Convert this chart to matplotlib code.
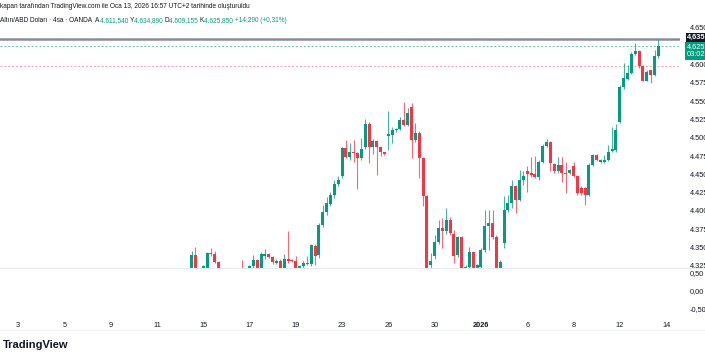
import numpy as np
import matplotlib
matplotlib.use("Agg")
import matplotlib.pyplot as plt

plt.rcParams['font.family'] = ['Liberation Sans', 'DejaVu Sans']

# 4h candles, XAU/USD (OANDA), first visible bar is bar #45 counted from Dec 3 00:00
first_bar = 45
opens = [4310, 4340, 4310, 4310, 4310, 4343, 4341, 4330, 4310, 4305, 4300, 4306, 4312, 4318, 4305,
         4310, 4325, 4333, 4310, 4339, 4341, 4337, 4329, 4332, 4310, 4335, 4333, 4331, 4310, 4325,
         4329, 4328, 4352, 4340, 4381, 4398, 4410, 4422, 4437, 4448, 4486, 4474, 4481, 4479, 4472,
         4487, 4519, 4488, 4495, 4488, 4480, 4502, 4504, 4510, 4512, 4524, 4518, 4542, 4497, 4507,
         4472, 4420, 4326, 4338, 4358, 4377, 4372, 4388, 4369, 4340, 4365, 4310, 4324, 4344, 4310,
         4324, 4347, 4380, 4384, 4365, 4310, 4356, 4401, 4411, 4434, 4415, 4442, 4454, 4452, 4451,
         4446, 4467, 4489, 4494, 4464, 4454, 4463, 4452, 4452, 4462, 4448, 4432, 4431, 4422, 4463,
         4477, 4467, 4467, 4470, 4482, 4483, 4522, 4569, 4581, 4589, 4615, 4618, 4598, 4578, 4592,
         4586, 4611.54]
highs = [4346, 4351, 4318, 4326, 4344, 4350, 4346, 4331, 4318, 4316, 4312, 4318, 4320, 4333, 4318,
         4326, 4340, 4335, 4344, 4348, 4343, 4338, 4334, 4334, 4341, 4373, 4335, 4338, 4326, 4332,
         4338, 4355, 4355, 4383, 4408, 4419, 4426, 4442, 4448, 4488, 4497, 4493, 4497, 4481, 4500,
         4526, 4521, 4498, 4497, 4489, 4481, 4536, 4515, 4514, 4528, 4549, 4541, 4548, 4520, 4509,
         4474, 4422, 4343, 4367, 4388, 4390, 4404, 4392, 4374, 4366, 4366, 4326, 4351, 4346, 4328,
         4349, 4401, 4401, 4401, 4367, 4333, 4420, 4422, 4442, 4436, 4456, 4454, 4461, 4474, 4475,
         4469, 4492, 4499, 4496, 4466, 4474, 4474, 4467, 4458, 4467, 4449, 4434, 4433, 4465, 4478,
         4478, 4471, 4477, 4490, 4515, 4519, 4572, 4602, 4600, 4617, 4630, 4620, 4600, 4592, 4593,
         4620, 4634.89]
lows = [4300, 4300, 4300, 4300, 4300, 4339, 4329, 4300, 4298, 4295, 4292, 4298, 4302, 4300, 4298,
        4305, 4322, 4300, 4305, 4335, 4336, 4328, 4327, 4300, 4305, 4329, 4330, 4300, 4305, 4322,
        4326, 4325, 4326, 4336, 4378, 4395, 4407, 4418, 4434, 4445, 4472, 4469, 4467, 4430, 4470,
        4485, 4466, 4478, 4449, 4475, 4476, 4483, 4493, 4508, 4510, 4516, 4516, 4472, 4494, 4445,
        4407, 4290, 4305, 4335, 4355, 4350, 4369, 4367, 4329, 4337, 4300, 4300, 4321, 4300, 4300,
        4320, 4344, 4347, 4362, 4300, 4300, 4350, 4399, 4404, 4397, 4413, 4436, 4426, 4447, 4445,
        4443, 4465, 4487, 4454, 4452, 4452, 4440, 4424, 4450, 4446, 4422, 4422, 4408, 4420, 4462,
        4468, 4466, 4466, 4468, 4481, 4481, 4520, 4567, 4579, 4587, 4613, 4596, 4577, 4577, 4575,
        4585, 4609.155]
closes = [4340, 4310, 4315, 4325, 4343, 4341, 4330, 4310, 4305, 4300, 4306, 4312, 4316, 4305, 4310,
          4325, 4333, 4310, 4341, 4341, 4337, 4330, 4332, 4310, 4335, 4332, 4331, 4310, 4325, 4329,
          4328, 4354, 4338, 4381, 4398, 4411, 4422, 4437, 4442, 4486, 4474, 4481, 4479, 4472, 4485,
          4519, 4487, 4495, 4488, 4480, 4478, 4505, 4510, 4512, 4524, 4518, 4534, 4497, 4507, 4472,
          4420, 4305, 4331, 4358, 4377, 4372, 4388, 4370, 4338, 4365, 4310, 4324, 4344, 4310, 4326,
          4347, 4380, 4384, 4365, 4310, 4330, 4401, 4411, 4434, 4415, 4442, 4448, 4450, 4449, 4446,
          4467, 4489, 4494, 4465, 4454, 4463, 4452, 4451, 4456, 4448, 4424, 4424, 4422, 4463, 4477,
          4470, 4470, 4470, 4481, 4485, 4510, 4569, 4582, 4589, 4615, 4618, 4598, 4578, 4590, 4586,
          4611.56, 4625.85]

tick_bars = [0, 12, 24, 36, 48, 60, 72, 84, 96, 108, 120, 132, 144, 156, 168]
tick_labels = ["3", "5", "9", "11", "15", "17", "19", "23", "26", "30", "2026", "6", "8", "12", "14"]
price_ticks = list(range(4325, 4651, 25))
osc_ticks = [0.5, 0.0, -0.5]
prev_line = 4598

GREEN = "#089981"
RED = "#f23645"
TXT = "#131722"

W, H = 705, 360
fig = plt.figure(figsize=(W / 100, H / 100), dpi=100)


def box(x0, y0, x1, y1):
    return [x0 / W, 1 - y1 / H, (x1 - x0) / W, (y1 - y0) / H]


def tr(v, nd):
    return f"{v:,.{nd}f}".replace(",", "_").replace(".", ",").replace("_", ".")


ax = fig.add_axes(box(0, 0, 680, 268))
low_ax = fig.add_axes(box(0, 268, 680, 316))

o = np.array(opens)
h = np.array(highs)
l = np.array(lows)
c = np.array(closes)
x = np.arange(first_bar, first_bar + len(o))
up = c >= o
cols = np.where(up, GREEN, RED)

ax.vlines(x, l, h, colors=cols, linewidth=0.8, alpha=0.75, zorder=2)
body = np.maximum(np.abs(c - o), 0.9)
ax.bar(x, body, bottom=np.minimum(o, c), width=0.78, color=cols, linewidth=0, zorder=3)

ax.set_xlim(-4.67, 171.6)
ax.set_ylim(4322.1, 4688.25)

# last high, last price, and the pink level
ax.axhline(h[-1], color="#8a8d96", linewidth=1.8, zorder=1)
ax.axhline(c[-1], color=GREEN, linewidth=0.7, linestyle=(0, (2, 2)), alpha=0.6, zorder=1)
ax.axhline(prev_line, color=RED, linewidth=0.7, linestyle=(0, (2, 2)), alpha=0.45, zorder=1)

ax.yaxis.tick_right()
ax.set_yticks(price_ticks)
ax.set_yticklabels([tr(v, 0) for v in price_ticks])
ax.tick_params(axis="y", length=0, pad=7, labelsize=5.3, labelcolor=TXT)
ax.set_xticks([])
for s in ax.spines.values():
    s.set_visible(False)

low_ax.set_xlim(-4.67, 171.6)
low_ax.set_ylim(-0.694, 0.639)
low_ax.yaxis.tick_right()
low_ax.set_yticks(osc_ticks)
low_ax.set_yticklabels([tr(v, 2) for v in osc_ticks])
low_ax.tick_params(axis="y", length=0, pad=7, labelsize=5.3, labelcolor=TXT)
low_ax.set_xticks(tick_bars)
low_ax.set_xticklabels(tick_labels)
low_ax.tick_params(axis="x", length=0, pad=4, labelsize=5.3, labelcolor=TXT)
for lab in low_ax.get_xticklabels():
    if lab.get_text() == "2026":
        lab.set_fontweight("bold")
for s in low_ax.spines.values():
    s.set_visible(False)

fig.add_artist(plt.Line2D([0, 1], [1 - 268 / H] * 2, color="#e9ebf0", linewidth=0.8))
fig.add_artist(plt.Line2D([0, 1], [1 - 330 / H] * 2, color="#f3f4f8", linewidth=0.8))

# price boxes on the scale
ax.annotate(tr(h[-1] / 1000, 3), xy=(687 / W, h[-1]), xycoords=("figure fraction", "data"),
            xytext=(0, 1.2), textcoords="offset points",
            ha="left", va="center", fontsize=5.3, color="white", fontweight="bold",
            bbox=dict(boxstyle="square,pad=0.12", fc=TXT, ec="none"), annotation_clip=False, zorder=6)
ax.annotate(tr(np.floor(c[-1]) / 1000, 3) + "\n03:02", xy=(687 / W, c[-1]),
            xycoords=("figure fraction", "data"),
            xytext=(0, 1.6), textcoords="offset points", linespacing=1.05,
            ha="left", va="top", fontsize=5.3, color="white",
            bbox=dict(boxstyle="square,pad=0.25", fc=GREEN, ec="none"), annotation_clip=False, zorder=5)

# header
fig.text(0, 1 - 6 / H, "kapan tarafından TradingView.com ile Oca 13, 2026 16:57 UTC+2 tarihinde oluşturuldu",
         fontsize=4.7, color=TXT, va="center", ha="left")
chg = c[-1] - c[-2]
pieces = [("Altın/ABD Doları · 4sa · OANDA  ", TXT), ("A", TXT), (tr(o[-1], 3) + " ", GREEN),
          ("Y", TXT), (tr(h[-1], 3) + " ", GREEN), ("D", TXT), (tr(l[-1], 3) + " ", GREEN),
          ("K", TXT), (tr(c[-1], 3) + " ", GREEN),
          (f"+{tr(chg, 3)} (+{tr(chg / c[-2] * 100, 2)}%)", GREEN)]
prev = fig.text(0, 1 - 21 / H, pieces[0][0], fontsize=4.7, color=pieces[0][1], va="center", ha="left")
for s, col in pieces[1:]:
    prev = ax.annotate(s, xy=(1, 0), xycoords=prev, va="bottom", ha="left",
                       fontsize=4.7, color=col, annotation_clip=False)

fig.text(3 / W, 1 - 345 / H, "TradingView", fontsize=8, fontweight="bold", color=TXT, va="center", ha="left")

fig.savefig("out.png", dpi=100)
